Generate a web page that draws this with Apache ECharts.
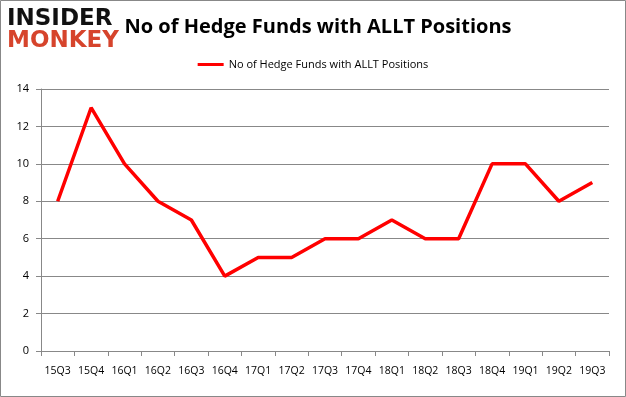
<!DOCTYPE html>
<html><head><meta charset="utf-8">
<script src="https://cdn.jsdelivr.net/npm/echarts@6/dist/echarts.min.js"></script>
<style>html,body{margin:0;padding:0;background:#fff}#c{width:626px;height:397px}</style>
</head><body><div id="c"></div>
<script>
const categories = ['15Q3','15Q4','16Q1','16Q2','16Q3','16Q4','17Q1','17Q2','17Q3','17Q4','18Q1','18Q2','18Q3','18Q4','19Q1','19Q2','19Q3'];
const hedgeFunds = [8,13,10,8,7,4,5,5,6,6,7,6,6,10,10,8,9];
const yTicks = {min:0, max:14, interval:2};
const seriesName = 'No of Hedge Funds with ALLT Positions';

const chart = echarts.init(document.getElementById('c'), null, {renderer:'canvas'});
chart.setOption({
  animation:false,
  backgroundColor:'#fff',
  graphic:[
    {type:'rect', shape:{x:0.5,y:0.5,width:625,height:396}, style:{fill:'none', stroke:'#888', lineWidth:1}},
    {type:'text', left:7, top:8, style:{text:'INSIDER', font:'900 23px "DejaVu Sans", sans-serif', fill:'#111'}},
    {type:'text', left:7, top:30, style:{text:'MONKEY', font:'900 23px "DejaVu Sans", sans-serif', fill:'#d6442c'}}
  ],
  title:{text:'No of Hedge Funds with ALLT Positions', left:313, textAlign:'center', top:12,
    textStyle:{fontFamily:'"Open Sans", sans-serif', fontWeight:'bold', fontSize:20, color:'#000'}},
  legend:{top:54, left:'center', itemWidth:26, itemHeight:3, icon:'rect',
    textStyle:{fontFamily:'"Open Sans", sans-serif', fontSize:11, color:'#000'},
    data:[seriesName]},
  grid:{left:41, right:17, top:89, bottom:46, containLabel:false},
  xAxis:{type:'category', data:categories, boundaryGap:true,
    axisLine:{lineStyle:{color:'#888'}},
    axisTick:{show:true, interval:0, alignWithLabel:false, length:5, lineStyle:{color:'#888'}},
    axisLabel:{interval:0, margin:15, fontFamily:'"Open Sans", sans-serif', fontSize:10.5, color:'#000'}},
  yAxis:{type:'value', min:yTicks.min, max:yTicks.max, interval:yTicks.interval,
    axisLine:{show:true, lineStyle:{color:'#888'}},
    axisTick:{show:true, length:5, lineStyle:{color:'#888'}},
    splitLine:{lineStyle:{color:'#888'}},
    axisLabel:{margin:12, fontFamily:'"Open Sans", sans-serif', fontSize:11, color:'#000'}},
  series:[{name:seriesName, type:'line', data:hedgeFunds, symbol:'none',
    lineStyle:{color:'#ff0000', width:3.5}, itemStyle:{color:'#ff0000'}}]
});
</script></body></html>
